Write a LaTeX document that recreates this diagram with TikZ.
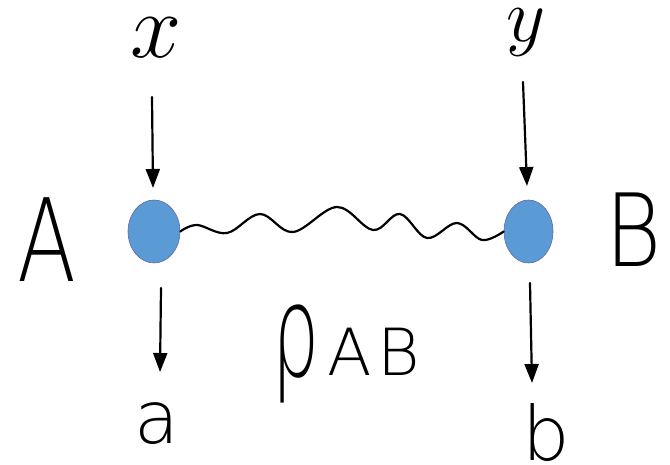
\RequirePackage{fix-cm}
\documentclass[tikz,border=0pt]{standalone}
\usepackage{fontspec}
\usepackage{graphicx}
\newfontfamily\handfont{DejaVu Sans ExtraLight}
\usetikzlibrary{shapes.geometric,arrows.meta}
\begin{document}
\begin{tikzpicture}[x=1pt,y=-1pt,
  party/.style={ellipse,draw=blue!40!black!60,line width=0.6pt,fill=qball,inner sep=0pt,minimum width=52pt,minimum height=63pt},
  hand/.style={inner sep=0pt,anchor=base,font=\handfont},
  measure/.style={line width=2.2pt,-{Triangle[length=19pt,width=14pt]},line cap=round},
  wave/.style={line width=2.2pt,line cap=round}]
\definecolor{qball}{HTML}{5B9BD5}
\useasboundingbox (0,0) rectangle (670,465);
% parties
\node[party] (a) at (154,231.5) {};
\node[party,minimum width=49pt] (b) at (528.5,231.5) {};
% inputs
\node[inner sep=0pt,anchor=base,text height=44pt,text depth=2pt] (xl) at (156,58) {\fontsize{92}{92}\selectfont$x$};
\node[inner sep=0pt,anchor=base,text height=34pt,text depth=16pt] (yl) at (526,42) {\fontsize{76}{76}\selectfont$y$};
% party labels
\node[hand] (al) at (47,282) {\scalebox{0.75}[1]{\fontsize{115}{115}\selectfont A}};
\node[hand] (bl) at (634,267) {\scalebox{0.85}[1]{\fontsize{101}{101}\selectfont B}};
% outputs
\node[hand] (ol) at (157,443) {\fontsize{73}{73}\selectfont a};
\node[hand,text height=57pt,text depth=1pt] (ob) at (546,460) {\fontsize{75}{75}\selectfont b};
% state
\node[hand] (rho) at (296,377) {\scalebox{0.58}[1]{\fontsize{128}{128}\selectfont ρ}};
\node[hand,anchor=base west] (ab) at (327,376) {\fontsize{65}{65}\selectfont A\hspace{6pt}B};
% arrow coordinates
\coordinate (xa1) at (152,97);
\coordinate (xa2) at (153,188);
\coordinate (ya1) at (523,82);
\coordinate (ya2) at (527,186);
\coordinate (aa1) at (161,288);
\coordinate (aa2) at (160,372);
\coordinate (ba1) at (530,283);
\coordinate (ba2) at (532,383);
\draw[measure] (xa1) -- (xa2);
\draw[measure] (ya1) -- (ya2);
\draw[measure] (aa1) -- (aa2);
\draw[measure] (ba1) -- (ba2);
% entanglement wave
\draw[wave] plot[smooth,tension=0.6] coordinates {(a.east) (197,225) (227,233) (260,214) (293,232) (337,207) (373,230) (400,214) (427,238) (457,223) (482,240) (b.west)};
\end{tikzpicture}
\end{document}
